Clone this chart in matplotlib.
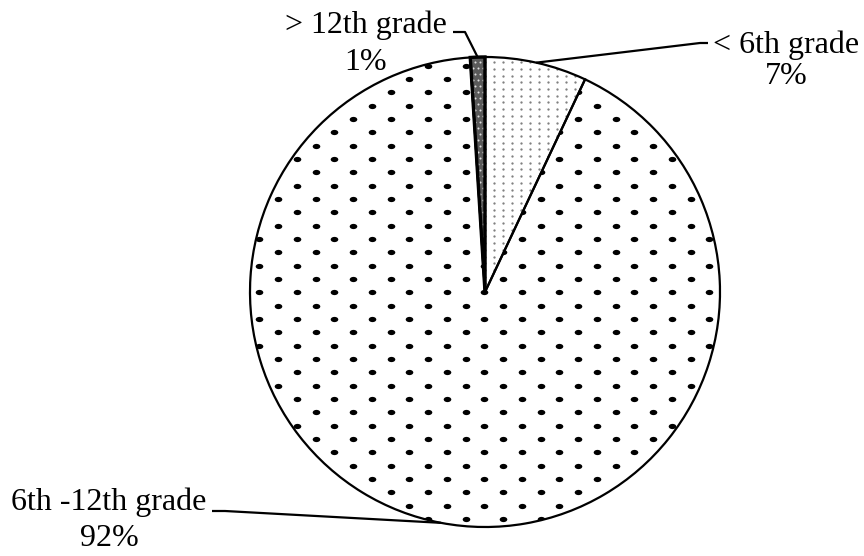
import numpy as np
import matplotlib
matplotlib.use('Agg')
import matplotlib.pyplot as plt
from matplotlib.patches import Wedge
from matplotlib.path import Path

# data
labels = ['< 6th grade', '6th -12th grade', '> 12th grade']
shares = [7, 92, 1]
pct_labels = ['7%', '92%', '1%']

W, H = 864, 556
plt.rcParams['font.family'] = ['Liberation Serif', 'DejaVu Serif']

fig = plt.figure(figsize=(W / 100, H / 100), dpi=100)
ax = fig.add_axes([0, 0, 1, 1])


def py(y):
    # pixel row (top down) -> data y
    return H - y


cx, cy, rad = 485, py(292), 235

wedges, _ = ax.pie(shares, startangle=90, counterclock=False, center=(cx, cy), radius=rad,
                   colors=['white', 'white', '#5a5a5a'], frame=True,
                   wedgeprops=dict(edgecolor='none', linewidth=0))
ax.set_xlim(0, W)
ax.set_ylim(0, H)
ax.set_aspect('equal')
ax.axis('off')

# elliptical dot marker
circ = Path.unit_circle()
dot = Path(circ.vertices * [1.45, 1.0], circ.codes)


def dot_grid(x0, y0, dx, dy, stagger):
    pts = []
    rows = np.arange(y0 - dy * 60, y0 + dy * 60, dy)
    for i, yy in enumerate(rows):
        off = (dx / 2) if (stagger and i % 2) else 0
        xs = np.arange(x0 - dx * 40 + off, x0 + dx * 40, dx)
        pts += [(x, yy) for x in xs]
    pts = np.array(pts)
    keep = (np.abs(pts[:, 0] - cx) < rad + 10) & (np.abs(pts[:, 1] - cy) < rad + 10)
    return pts[keep]


fills = [
    dict(grid=(485, py(290), 9.0, 6.7, False), color='#808080', marker='o', s=2.8),
    dict(grid=(334.3, py(425.7), 37.5, 13.33, True), color='black', marker=dot, s=30),
    dict(grid=(480, py(290), 5.0, 6.0, True), color='#dddddd', marker='o', s=2.2),
]
for w, f in zip(wedges, fills):
    p = dot_grid(*f['grid'])
    sc = ax.scatter(p[:, 0], p[:, 1], s=f['s'], c=f['color'], marker=f['marker'],
                    linewidths=0, zorder=3)
    sc.set_clip_path(w)

# outlines on top
for w in wedges:
    ax.add_patch(Wedge((cx, cy), rad, w.theta1, w.theta2, fill=False,
                       edgecolor='black', linewidth=1.6, zorder=4))
ax.add_patch(Wedge((cx, cy), rad, wedges[2].theta1, wedges[2].theta2, fill=False,
                   edgecolor='black', linewidth=2.4, zorder=4))

# labels: (text centre x, baseline row of name, baseline row of pct, leader elbow points)
label_pos = [
    (786, 53, 84, [(708, 43), (700, 43)]),
    (109, 510, 546, [(212, 511), (225, 511)]),
    (366, 33, 70, [(453, 32), (465, 32)]),
]
for w, name, pct, (tx, yb1, yb2, elbow) in zip(wedges, labels, pct_labels, label_pos):
    ax.text(tx, py(yb1), name, ha='center', va='baseline', fontsize=23, color='black')
    ax.text(tx, py(yb2), pct, ha='center', va='baseline', fontsize=23, color='black')
    mid = np.deg2rad((w.theta1 + w.theta2) / 2)
    ex, ey = cx + rad * np.cos(mid), cy + rad * np.sin(mid)
    xs = [elbow[0][0], elbow[1][0], ex]
    ys = [py(elbow[0][1]), py(elbow[1][1]), ey]
    ax.plot(xs, ys, color='black', linewidth=1.6, zorder=5, solid_capstyle='butt')

fig.savefig('out.png', dpi=100)
